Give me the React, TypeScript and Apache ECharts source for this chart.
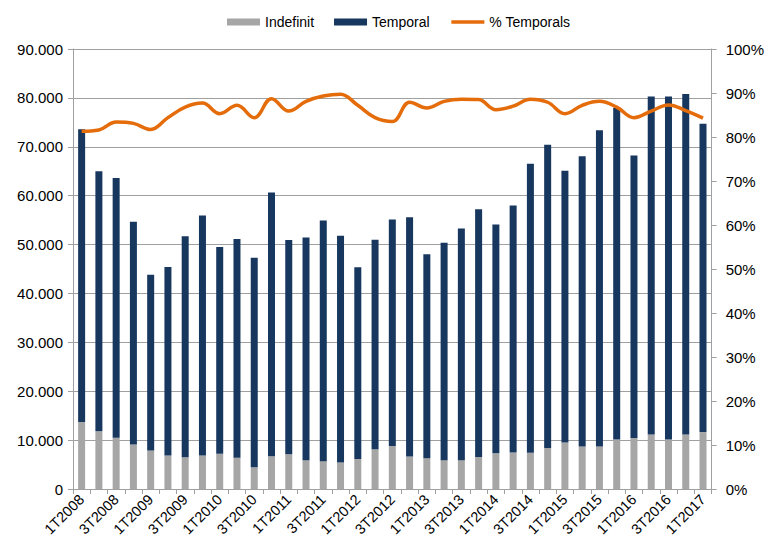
import React, { useEffect, useRef } from "react";
import * as echarts from "echarts";

const categories: string[] = [
  "1T2008", "2T2008", "3T2008", "4T2008",
  "1T2009", "2T2009", "3T2009", "4T2009",
  "1T2010", "2T2010", "3T2010", "4T2010",
  "1T2011", "2T2011", "3T2011", "4T2011",
  "1T2012", "2T2012", "3T2012", "4T2012",
  "1T2013", "2T2013", "3T2013", "4T2013",
  "1T2014", "2T2014", "3T2014", "4T2014",
  "1T2015", "2T2015", "3T2015", "4T2015",
  "1T2016", "2T2016", "3T2016", "4T2016",
  "1T2017",
];

const totals: number[] = [
  73600, 65000, 63600, 54650, 43800, 45400, 51700, 55950, 49500, 51150,
  47300, 60650, 50950, 51450, 54900, 51800, 45350, 51000, 55150, 55600,
  48000, 50350, 53300, 57200, 54100, 58000, 66550, 70400, 65100, 68050,
  73400, 78000, 68200, 80300, 80300, 80800, 74700,
];

const indefinit: number[] = [
  13700, 11800, 10500, 9100, 7900, 6850, 6500, 6850, 7200, 6400,
  4450, 6700, 7100, 5900, 5700, 5400, 6150, 8150, 8800, 6650,
  6300, 5900, 5900, 6550, 7300, 7450, 7400, 8400, 9500, 8700,
  8700, 10100, 10450, 11150, 10100, 11150, 11650,
];

const pctTemporals: number[] = [
  81.3, 81.6, 83.4, 83.1, 81.7, 84.4, 86.8, 87.7, 85.3, 87.2,
  84.4, 88.7, 85.9, 88.1, 89.3, 89.7, 87.2, 84.4, 83.5, 87.9,
  86.6, 88.1, 88.6, 88.5, 86.2, 87.0, 88.6, 87.9, 85.3, 87.2,
  88.1, 86.8, 84.4, 85.9, 87.3, 86.0, 84.3,
];

const temporal: number[] = totals.map((t, i) => t - indefinit[i]);

const FONT = "'Liberation Sans', Arial, sans-serif";
const ORANGE = "#E46C0A";

function fmtThousands(v: number): string {
  return String(Math.round(v)).replace(/\B(?=(\d{3})+(?!\d))/g, ".");
}

export default function App() {
  const ref = useRef<HTMLDivElement>(null);
  useEffect(() => {
    if (!ref.current) return;
    const chart = echarts.init(ref.current, undefined, { renderer: "svg" });
    const gridColor = "#A0A0A0";
    chart.setOption({
      animation: false,
      textStyle: { fontFamily: FONT, color: "#000" },
      legend: {
        top: 10,
        left: 222,
        itemWidth: 33,
        itemHeight: 7,
        itemGap: 20,
        textStyle: { fontFamily: FONT, fontSize: 14, color: "#000" },
        data: [
          { name: "Indefinit", icon: "rect" },
          { name: "Temporal", icon: "rect" },
          {
            name: "% Temporals",
            lineStyle: { color: ORANGE, width: 3.5, opacity: 1 },
            itemStyle: { color: "rgba(0,0,0,0)", borderWidth: 0, opacity: 0 },
          },
        ],
      },
      grid: { left: 73, right: 55, top: 49, bottom: 54, containLabel: false },
      xAxis: {
        type: "category",
        data: categories,
        boundaryGap: true,
        axisLine: { show: true, lineStyle: { color: gridColor, width: 1 } },
        axisTick: { show: true, interval: 0, length: 5, lineStyle: { color: gridColor } },
        axisLabel: {
          interval: 1,
          rotate: 45,
          fontSize: 14.5,
          color: "#000",
          fontFamily: FONT,
          margin: 8,
        },
      },
      yAxis: [
        {
          type: "value",
          min: 0,
          max: 90000,
          interval: 10000,
          axisLine: { show: true, lineStyle: { color: gridColor } },
          axisTick: { show: true, length: 5, lineStyle: { color: gridColor } },
          splitLine: { show: true, lineStyle: { color: gridColor, width: 1 } },
          axisLabel: {
            fontSize: 15,
            color: "#000",
            fontFamily: FONT,
            margin: 10,
            formatter: (v: number) => fmtThousands(v),
          },
        },
        {
          type: "value",
          min: 0,
          max: 100,
          interval: 10,
          position: "right",
          axisLine: { show: true, lineStyle: { color: gridColor } },
          axisTick: { show: true, length: 5, lineStyle: { color: gridColor } },
          splitLine: { show: false },
          axisLabel: {
            fontSize: 15,
            color: "#000",
            fontFamily: FONT,
            margin: 14,
            formatter: (v: number) => v + "%",
          },
        },
      ],
      series: [
        {
          name: "Indefinit",
          type: "bar",
          stack: "total",
          data: indefinit,
          barWidth: 7,
          itemStyle: { color: "#A6A6A6" },
        },
        {
          name: "Temporal",
          type: "bar",
          stack: "total",
          data: temporal,
          barWidth: 7,
          itemStyle: { color: "#17375E" },
        },
        {
          name: "% Temporals",
          type: "line",
          yAxisIndex: 1,
          data: pctTemporals,
          smooth: 0.4,
          symbol: "none",
          lineStyle: { color: ORANGE, width: 3.5 },
          itemStyle: { color: ORANGE },
        },
      ],
    });
    return () => chart.dispose();
  }, []);
  return <div ref={ref} style={{ width: 767, height: 543, position: "absolute", left: 0, top: 0 }} />;
}
